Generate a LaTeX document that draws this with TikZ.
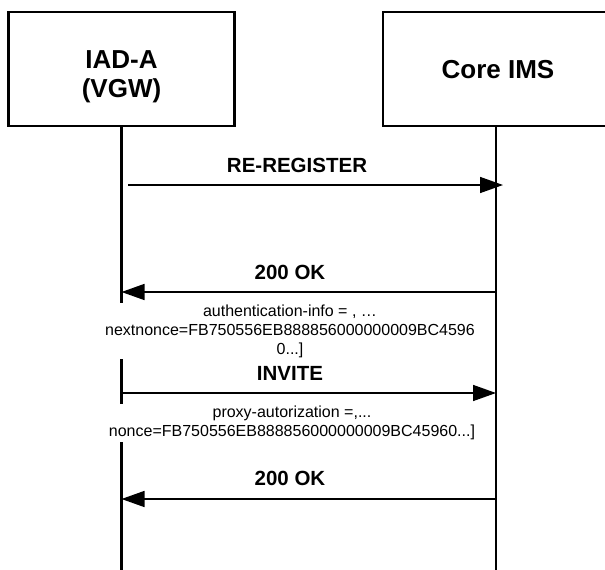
\documentclass[tikz,border=0pt]{standalone}
\usepackage{fontspec}
\setmainfont{Liberation Sans}
\usetikzlibrary{arrows.meta}
\begin{document}
\begin{tikzpicture}[x=1pt,y=-1pt,
  box/.style={draw,line width=2.2pt,minimum width=226pt,minimum height=114pt,inner sep=0pt},
  head/.style={font=\fontsize{26}{29}\selectfont\bfseries,align=center},
  life/.style={line width=2.2pt},
  msg/.style={line width=1.5pt,-{Triangle[length=23pt,width=16pt]}},
  lbl/.style={font=\fontsize{20.5}{24}\selectfont\bfseries},
  note/.style={font=\fontsize{16}{19}\selectfont,align=center,fill=white,inner xsep=2pt,inner ysep=2pt}]
\useasboundingbox (0,0) rectangle (605,570);
\clip (0,0) rectangle (605,570);
% participants
\node[box] (A) at (121.5,69) {};
\node[box] (B) at (496,69) {};
\node[head] (Atext) at (121.5,77) {IAD-A\\(VGW)};
\node[head] (Btext) at (498,70) {Core IMS};
% lifelines
\coordinate (Aend) at (121.5,575);
\coordinate (Bend) at (496,575);
\draw[life] (A.south) -- (Aend);
\draw[life] (B.south) -- (Bend);
% message anchor points
\coordinate (m1s) at (128,185);   \coordinate (m1e) at (503,185);
\coordinate (m2s) at (496,292);   \coordinate (m2e) at (121.5,292);
\coordinate (m3s) at (121.5,393); \coordinate (m3e) at (496,393);
\coordinate (m4s) at (496,499);   \coordinate (m4e) at (121.5,499);
% messages
\draw[msg] (m1s) -- (m1e);
\node[lbl] (l1) at (297,165) {RE-REGISTER};
\draw[msg] (m2s) -- (m2e);
\node[lbl] (l2) at (290,272) {200 OK};
\node[note] (n1) at (290,331) {authentication-info = , …\\nextnonce=FB750556EB888856000000009BC4596\\0...]};
\draw[msg] (m3s) -- (m3e);
\node[lbl] (l3) at (290,373) {INVITE};
\node[note] (n2) at (292,423) {proxy-autorization =,...\\nonce=FB750556EB888856000000009BC45960...]};
\draw[msg] (m4s) -- (m4e);
\node[lbl] (l4) at (290,478) {200 OK};
\end{tikzpicture}
\end{document}
